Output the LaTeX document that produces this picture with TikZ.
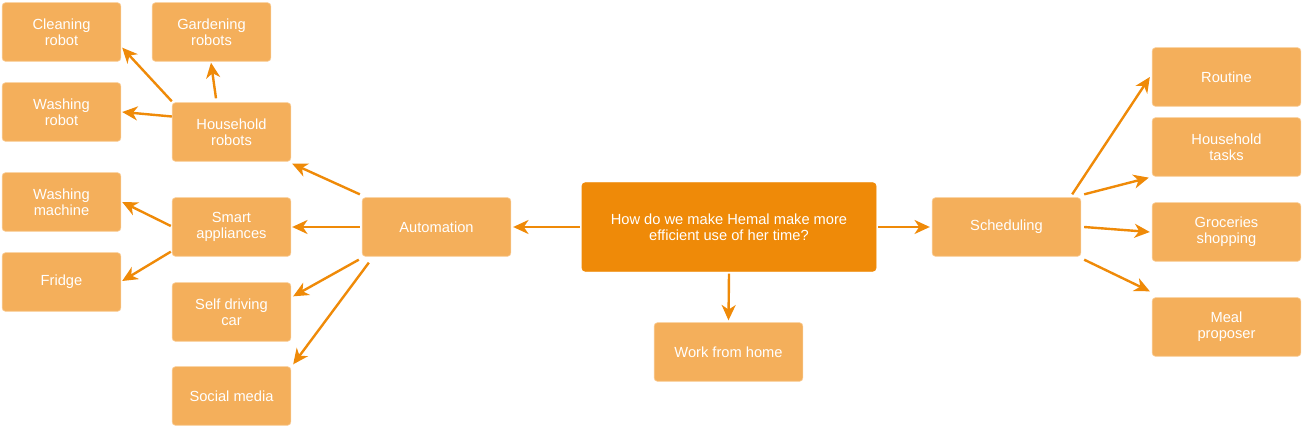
\documentclass[tikz,border=0pt]{standalone}
\usepackage{fontspec}
\setmainfont{Liberation Sans}
\usetikzlibrary{arrows.meta,calc}

\definecolor{hubfill}{HTML}{EF8A08}
\definecolor{leaffill}{HTML}{F4AF5B}
\definecolor{leafline}{HTML}{F9CD97}

\tikzset{
  leaf/.style={draw=leafline, line width=0.5pt, fill=leaffill, rounded corners=2.5pt,
    text=white, align=center, minimum width=89pt, minimum height=44pt,
    font=\fontsize{11}{12}\selectfont},
  wideleaf/.style={leaf, minimum width=111.5pt},
  hub/.style={leaf, draw=hubfill, fill=hubfill, minimum width=220.5pt, minimum height=66.5pt},
  link/.style={draw=hubfill, line width=1.8pt, -{Stealth[length=11.5pt,width=10.5pt,inset=3.5pt]}}
}

\begin{document}
\begin{tikzpicture}[x=0.75pt,y=-0.75pt]
        \useasboundingbox (0,0) rectangle (1303,427);
        % middle
        \node[hub] (hub) at (729,227) {How do we make Hemal make more\\efficient use of her time?};
        \node[wideleaf] (aut) at (436.5,227) {Automation};
        \node[wideleaf] (wfh) at (728.5,352) {Work from home};
        \node[wideleaf] (sch) at (1006.5,227) {Scheduling};
        % left branch
        \node[leaf] (hr) at (231.5,132) {Household\\robots};
        \node[leaf] (sa) at (231.5,227) {Smart\\appliances};
        \node[leaf] (sdc) at (231.5,312) {Self driving\\car};
        \node[leaf] (sm) at (231.5,396) {Social media};
        \node[leaf] (cr) at (61.5,32) {Cleaning\\robot};
        \node[leaf] (gr) at (211.5,32) {Gardening\\robots};
        \node[leaf] (wr) at (61.5,112) {Washing\\robot};
        \node[leaf] (wm) at (61.5,202) {Washing\\machine};
        \node[leaf] (fr) at (61.5,282) {Fridge};
        % right branch
        \node[wideleaf] (ro) at (1226.5,77) {Routine};
        \node[wideleaf] (ht) at (1226.5,147) {Household\\tasks};
        \node[wideleaf] (gs) at (1226.5,232) {Groceries\\shopping};
        \node[wideleaf] (mp) at (1226.5,327) {Meal\\proposer};

        \draw[link] ($(hub.west)+(-2,0)$) -- ($(aut.east)+(2,0)$);
        \draw[link] ($(hub.south)+(0,2)$) -- ($(wfh.north)+(0,-2)$);
        \draw[link] ($(hub.east)+(2,0)$) -- ($(sch.west)+(-2,0)$);

        \draw[link] ($(aut.north west)+(-2,-3)$) -- ($(hr.south east)+(1,2)$);
        \draw[link] ($(aut.west)+(-2,0)$) -- ($(sa.east)+(1,0)$);
        \draw[link] ($(aut.south west)+(-3,3)$) -- ($(sdc.north east)+(2,14)$);
        \draw[link] ($(aut.south west)+(7,6)$) -- ($(sm.north east)+(2,-2)$);

        \draw[link] ($(hr.north west)+(0,-1)$) -- ($(cr.south east)+(1,-14)$);
        \draw[link] ($(hr.north)+(-15.5,-4)$) -- ($(gr.south)+(-0.5,1)$);
        \draw[link] ($(hr.west)+(0,-15.5)$) -- ($(wr.east)+(1,0)$);
        \draw[link] ($(sa.west)+(-1,-1)$) -- ($(wm.east)+(1,0)$);
        \draw[link] ($(sa.south west)+(-1,-5)$) -- ($(fr.east)+(1,-1)$);

        \draw[link] ($(sch.north east)+(-9,-3)$) -- ($(ro.west)+(-2,0)$);
        \draw[link] ($(sch.north east)+(3,-3)$) -- ($(ht.south west)+(-3,1)$);
        \draw[link] ($(sch.east)+(3,0)$) -- ($(gs.west)+(-2,0)$);
        \draw[link] ($(sch.south east)+(3,3)$) -- ($(mp.north west)+(-2,-6)$);
\end{tikzpicture}
\end{document}
